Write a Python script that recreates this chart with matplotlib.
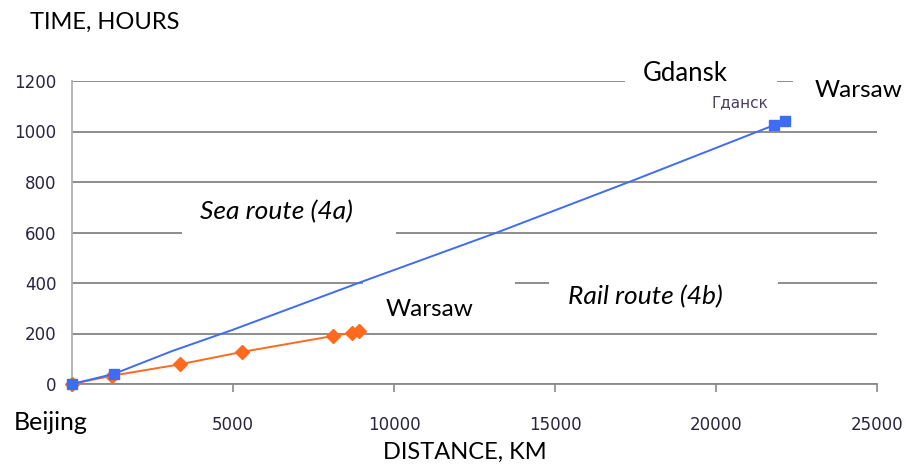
# Transit time vs distance, Beijing -> Warsaw: sea route vs rail route
import numpy as np
import matplotlib
matplotlib.use("Agg")
import matplotlib.pyplot as plt
from matplotlib.patches import Rectangle

# Sea route (4a): distance, km / time, hours
sea_km = [0, 1300, 3100, 5000, 9000, 13200, 17400, 19900, 21800, 22150]
sea_hours = [0, 40, 130, 215, 405, 600, 805, 930, 1025, 1040]
sea_marked = [0, 1, 8, 9]

# Rail route (4b)
rail_km = [0, 1250, 3350, 5280, 8100, 8690, 8920]
rail_hours = [0, 33, 78, 127, 190, 203, 210]

x_ticks = [0, 5000, 10000, 15000, 20000, 25000]
x_tick_labels = ["", "5000", "10000", "15000", "20000", "25000"]
y_ticks = [0, 200, 400, 600, 800, 1000, 1200]

label_font = ["Lato", "DejaVu Sans"]
tick_font = ["DejaVu Sans"]
tick_color = "#2a2440"

fig = plt.figure(figsize=(9.06, 4.66), dpi=100)
ax = fig.add_axes([72 / 906, 1 - 384 / 466, 805 / 906, 303 / 466])

ax.set_xlim(0, 25000)
ax.set_ylim(0, 1200)

# grid
ax.set_axisbelow(True)
ax.yaxis.grid(True, color="#858585", linewidth=1.3)
ax.xaxis.grid(False)

for side in ["top", "right"]:
    ax.spines[side].set_visible(False)
ax.spines["left"].set_color("#b0b0b0")
ax.spines["left"].set_linewidth(1.3)
ax.spines["bottom"].set_color("#8a8a8a")
ax.spines["bottom"].set_linewidth(1.3)

ax.set_xticks(x_ticks)
ax.set_xticklabels(x_tick_labels)
ax.set_yticks(y_ticks)
ax.tick_params(axis="x", direction="out", length=6, width=1.2, color="#8a8a8a",
               pad=17, labelsize=12, labelcolor=tick_color)
ax.tick_params(axis="y", length=0, pad=11, labelsize=12, labelcolor=tick_color)
for lab in ax.get_xticklabels() + ax.get_yticklabels():
    lab.set_family(tick_font)

# white label boxes (axes fraction) covering the grid behind the captions
boxes = [
    (0.687, 0.975, 0.189, 0.10),   # Gdansk
    (0.896, 0.935, 0.12, 0.09),    # Warsaw (sea)
    (0.137, 0.46, 0.265, 0.18),    # Sea route
    (0.361, 0.19, 0.189, 0.185),   # Warsaw (rail)
    (0.593, 0.195, 0.284, 0.18),   # Rail route
]
for bx, by, bw, bh in boxes:
    ax.add_patch(Rectangle((bx, by), bw, bh, transform=ax.transAxes,
                           facecolor="white", edgecolor="none", zorder=1,
                           clip_on=False))

# series
ax.plot(rail_km, rail_hours, color="#ff6a1e", linewidth=1.4, marker="D",
        markersize=7, markevery=list(range(len(rail_km))), zorder=3, clip_on=False)
ax.plot(sea_km, sea_hours, color="#3f6cf5", linewidth=1.4, marker="s",
        markersize=7.5, markevery=sea_marked, zorder=4, clip_on=False)

# captions
ax.text(0.159, 0.57, "Sea route (4a)", transform=ax.transAxes, fontsize=19,
        style="italic", family=label_font, ha="left", va="center", zorder=5)
ax.text(0.616, 0.287, "Rail route (4b)", transform=ax.transAxes, fontsize=19,
        style="italic", family=label_font, ha="left", va="center", zorder=5)
ax.text(0.389, 0.245, "Warsaw", transform=ax.transAxes, fontsize=17.5,
        family=label_font, ha="left", va="center", zorder=5)
ax.text(0.709, 1.025, "Gdansk", transform=ax.transAxes, fontsize=18.5,
        family=label_font, ha="left", va="center", zorder=5)
ax.text(0.923, 0.97, "Warsaw", transform=ax.transAxes, fontsize=17.5,
        family=label_font, ha="left", va="center", zorder=5)
ax.text(0.795, 0.928, "Гданск", transform=ax.transAxes, fontsize=11,
        family=tick_font, color="#4a3e5e", ha="left", va="center", zorder=5)

fig.text(14 / 906, 1 - 422 / 466, "Beijing", fontsize=18, family=label_font,
         ha="left", va="center")
fig.text(30 / 906, 1 - 22 / 466, "TIME, HOURS", fontsize=17, family=label_font,
         ha="left", va="center")
fig.text(465 / 906, 1 - 452 / 466, "DISTANCE, KM", fontsize=17,
         family=label_font, ha="center", va="center")

fig.savefig("out.png", dpi=100, facecolor="white")
